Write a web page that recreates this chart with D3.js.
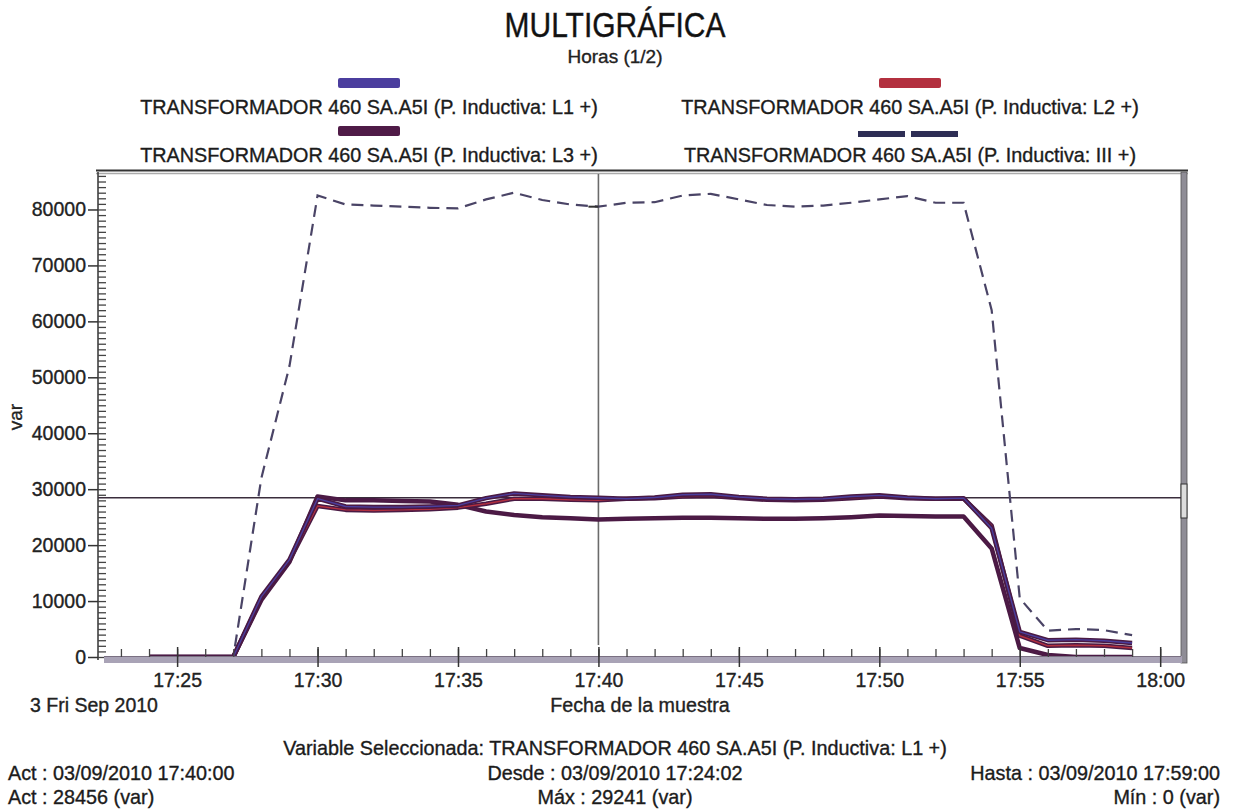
<!DOCTYPE html>
<html>
<head>
<meta charset="utf-8">
<script src="https://cdn.jsdelivr.net/npm/d3@7"></script>
<style>
  body { margin: 0; background: #fff; }
  svg { display: block; font-family: "Liberation Sans", Arial, sans-serif; }
  svg text { stroke: #222; stroke-width: 0.35px; }
</style>
</head>
<body>
<svg id="chart" width="1233" height="809"></svg>
<script>
// muestras cada minuto, 03/09/2010
const sampleTimes = ["17:24","17:25","17:26","17:27","17:28","17:29","17:30","17:31","17:32","17:33",
  "17:34","17:35","17:36","17:37","17:38","17:39","17:40","17:41","17:42","17:43","17:44","17:45",
  "17:46","17:47","17:48","17:49","17:50","17:51","17:52","17:53","17:54","17:55","17:56","17:57",
  "17:58","17:59"];

const serieL1 = [0,0,0,0,10800,17400,28300,26900,26800,26800,26900,27100,28400,29241,28900,28600,
  28456,28300,28500,29000,29100,28600,28300,28200,28300,28700,28900,28500,28300,28400,23000,4500,
  3000,3100,2900,2500];
const serieL2 = [0,0,0,0,10500,17200,27000,26300,26200,26300,26400,26700,27400,28300,28300,28100,
  28000,28300,28400,28700,28800,28400,28100,28000,28100,28400,28700,28400,28300,28300,23500,3800,
  2000,2100,2000,1600];
const serieL3 = [0,0,0,0,10200,17000,28700,28000,28000,27900,27800,27200,26000,25400,25000,24800,
  24600,24700,24800,24900,24900,24800,24700,24700,24800,25000,25300,25200,25100,25100,19400,1600,
  350,0,0,0];
const serieIII = [0,0,0,0,32000,52000,82500,80900,80700,80500,80300,80200,81800,83000,81700,80900,
  80500,81200,81300,82500,82800,81800,80800,80500,80700,81200,81800,82400,81200,81200,62000,10500,
  4700,5000,4800,3900];

const yTicks = [0,10000,20000,30000,40000,50000,60000,70000,80000];
const legendLabels = [
  "TRANSFORMADOR 460 SA.A5I (P. Inductiva: L1 +)",
  "TRANSFORMADOR 460 SA.A5I (P. Inductiva: L2 +)",
  "TRANSFORMADOR 460 SA.A5I (P. Inductiva: L3 +)",
  "TRANSFORMADOR 460 SA.A5I (P. Inductiva: III +)"
];
const colors = ["#4b3e9e", "#b3303f", "#4f1b47", "#4a4466"];

const cursorTime = "17:40:00";
const cursorValue = 28456;

const parse = d3.timeParse("%Y-%m-%d %H:%M:%S");
const day = "2010-09-03 ";
const t = s => parse(day + (s.length === 5 ? s + ":00" : s));

const svg = d3.select("#chart");

const x = d3.scaleTime()
  .domain([t("17:22:11"), t("18:00:53")])
  .range([98, 1185]);
const y = d3.scaleLinear()
  .domain([0, 86700])
  .range([657, 172]);

// ---- titulo y leyenda
svg.append("text").attr("transform", "translate(615,37) scale(1,1.15)").attr("text-anchor", "middle")
  .attr("font-size", 30).attr("fill", "#111").text("MULTIGRÁFICA");
svg.append("text").attr("x", 615).attr("y", 63).attr("text-anchor", "middle")
  .attr("font-size", 19).attr("fill", "#222").text("Horas (1/2)");

const legendPos = [[369, 114], [910, 114], [369, 162], [910, 162]];
legendLabels.forEach((lab, i) => {
  svg.append("text").attr("x", legendPos[i][0]).attr("y", legendPos[i][1])
    .attr("text-anchor", "middle").attr("font-size", 19.8).attr("fill", "#1a1a1a").text(lab);
});
svg.append("rect").attr("x", 338).attr("y", 78).attr("width", 62).attr("height", 10).attr("rx", 2).attr("fill", colors[0]);
svg.append("rect").attr("x", 879).attr("y", 78).attr("width", 62).attr("height", 10).attr("rx", 2).attr("fill", colors[1]);
svg.append("rect").attr("x", 338).attr("y", 126).attr("width", 62).attr("height", 10).attr("rx", 2).attr("fill", colors[2]);
svg.append("rect").attr("x", 858).attr("y", 131).attr("width", 47).attr("height", 6).attr("fill", "#2e2e55");
svg.append("rect").attr("x", 911).attr("y", 131).attr("width", 47).attr("height", 6).attr("fill", "#2e2e55");

// ---- marco
svg.append("line").attr("x1", 96).attr("x2", 1188).attr("y1", 170.5).attr("y2", 170.5)
  .attr("stroke", "#333").attr("stroke-width", 2);
svg.append("line").attr("x1", 96).attr("x2", 1188).attr("y1", 173.5).attr("y2", 173.5)
  .attr("stroke", "#aaa").attr("stroke-width", 1.5);
svg.append("line").attr("x1", 98).attr("x2", 98).attr("y1", 172).attr("y2", 660)
  .attr("stroke", "#333").attr("stroke-width", 1.5);
svg.append("rect").attr("x", 1181).attr("y", 172).attr("width", 6).attr("height", 491)
  .attr("fill", "#8f8d96").attr("stroke", "#555").attr("stroke-width", 0.8);
svg.append("rect").attr("x", 1181).attr("y", 484).attr("width", 6).attr("height", 34)
  .attr("fill", "#ddd").attr("stroke", "#333").attr("stroke-width", 1);

// ---- ejes
const yMajor = d3.axisLeft(y).tickValues(yTicks).tickSize(10).tickPadding(2)
  .tickFormat(d3.format("d"));
const gy = svg.append("g").attr("transform", "translate(98,0)").call(yMajor);
gy.select(".domain").remove();
gy.selectAll("line").attr("stroke", "#333").attr("stroke-width", 1.5);
gy.selectAll("text").attr("font-size", 19.5).attr("fill", "#222")
  .attr("font-family", "Liberation Sans, Arial, sans-serif");

const yMinor = d3.axisRight(y).tickValues(d3.range(0, 86001, 1000)).tickSize(8).tickFormat("");
const gym = svg.append("g").attr("transform", "translate(98,0)").call(yMinor);
gym.select(".domain").remove();
gym.selectAll("line").attr("stroke", "#444").attr("stroke-width", 1.3);

svg.append("text").attr("transform", "translate(22,417) rotate(-90)").attr("text-anchor", "middle")
  .attr("font-size", 19).attr("fill", "#222").text("var");
svg.append("text").attr("x", 30).attr("y", 712).attr("font-size", 19.5).attr("fill", "#222")
  .text("3 Fri Sep 2010");
svg.append("text").attr("x", 640).attr("y", 712).attr("text-anchor", "middle")
  .attr("font-size", 19.7).attr("fill", "#222").text("Fecha de la muestra");

// ---- cursores
svg.append("line").attr("x1", x(t(cursorTime))).attr("x2", x(t(cursorTime)))
  .attr("y1", 174).attr("y2", 645).attr("stroke", "#6b6b6b").attr("stroke-width", 1.6);
svg.append("line").attr("x1", 98).attr("x2", 1181).attr("y1", y(cursorValue)).attr("y2", y(cursorValue))
  .attr("stroke", "#3a2d3c").attr("stroke-width", 1.5);

// ---- series
const rows = sampleTimes.map((s, i) => ({
  time: t(s), l1: serieL1[i], l2: serieL2[i], l3: serieL3[i], iii: serieIII[i]
}));
const lineFor = key => d3.line().x(d => x(d.time)).y(d => y(d[key]));

svg.append("path").datum(rows).attr("d", lineFor("iii"))
  .attr("fill", "none").attr("stroke", colors[3]).attr("stroke-width", 2.2)
  .attr("stroke-dasharray", "12,7");
const iii40 = serieIII[sampleTimes.indexOf("17:40")];
svg.append("line").attr("x1", x(t(cursorTime)) - 10).attr("x2", x(t(cursorTime)))
  .attr("y1", y(iii40)).attr("y2", y(iii40))
  .attr("stroke", "#333").attr("stroke-width", 2);

[["l3", 2], ["l2", 1], ["l1", 0]].forEach(([key, ci]) => {
  svg.append("path").datum(rows).attr("d", lineFor(key))
    .attr("fill", "none").attr("stroke", "#4a1a44").attr("stroke-width", 4.5)
    .attr("stroke-linejoin", "round");
  svg.append("path").datum(rows).attr("d", lineFor(key))
    .attr("fill", "none").attr("stroke", colors[ci]).attr("stroke-width", 1.4)
    .attr("stroke-linejoin", "round");
});

// banda inferior (tapa el tramo en cero)
svg.append("rect").attr("x", 104).attr("y", 656).attr("width", 1078).attr("height", 7)
  .attr("fill", "#a9a3b6");
svg.append("line").attr("x1", 104).attr("x2", 1181).attr("y1", 656.5).attr("y2", 656.5)
  .attr("stroke", "#7a7082").attr("stroke-width", 1);

const xMinor = d3.axisTop(x).ticks(d3.timeMinute.every(1)).tickSize(8).tickFormat("");
const gxm = svg.append("g").attr("transform", "translate(0,657)").call(xMinor);
gxm.select(".domain").remove();
gxm.selectAll("line").attr("stroke", "#444").attr("stroke-width", 1.3);

const xMajor = d3.axisBottom(x).ticks(d3.timeMinute.every(5)).tickSize(10).tickPadding(6)
  .tickFormat(d3.timeFormat("%H:%M"));
const gx = svg.append("g").attr("transform", "translate(0,657)").call(xMajor);
gx.select(".domain").remove();
gx.selectAll("line").attr("stroke", "#333").attr("stroke-width", 1.5).attr("y1", -10);
gx.selectAll("text").attr("font-size", 19.5).attr("fill", "#222")
  .attr("font-family", "Liberation Sans, Arial, sans-serif");

// ---- pie
const foot = [
  [615, 755, "middle", "Variable Seleccionada: TRANSFORMADOR 460 SA.A5I (P. Inductiva: L1 +)"],
  [8, 780, "start", "Act : 03/09/2010 17:40:00"],
  [615, 780, "middle", "Desde : 03/09/2010 17:24:02"],
  [1220, 780, "end", "Hasta : 03/09/2010 17:59:00"],
  [8, 804, "start", "Act : 28456 (var)"],
  [615, 804, "middle", "Máx : 29241 (var)"],
  [1220, 804, "end", "Mín : 0 (var)"]
];
foot.forEach(([fx, fy, anchor, txt]) => {
  svg.append("text").attr("x", fx).attr("y", fy).attr("text-anchor", anchor)
    .attr("font-size", 19.8).attr("fill", "#1a1a1a").text(txt);
});
</script>
</body>
</html>
